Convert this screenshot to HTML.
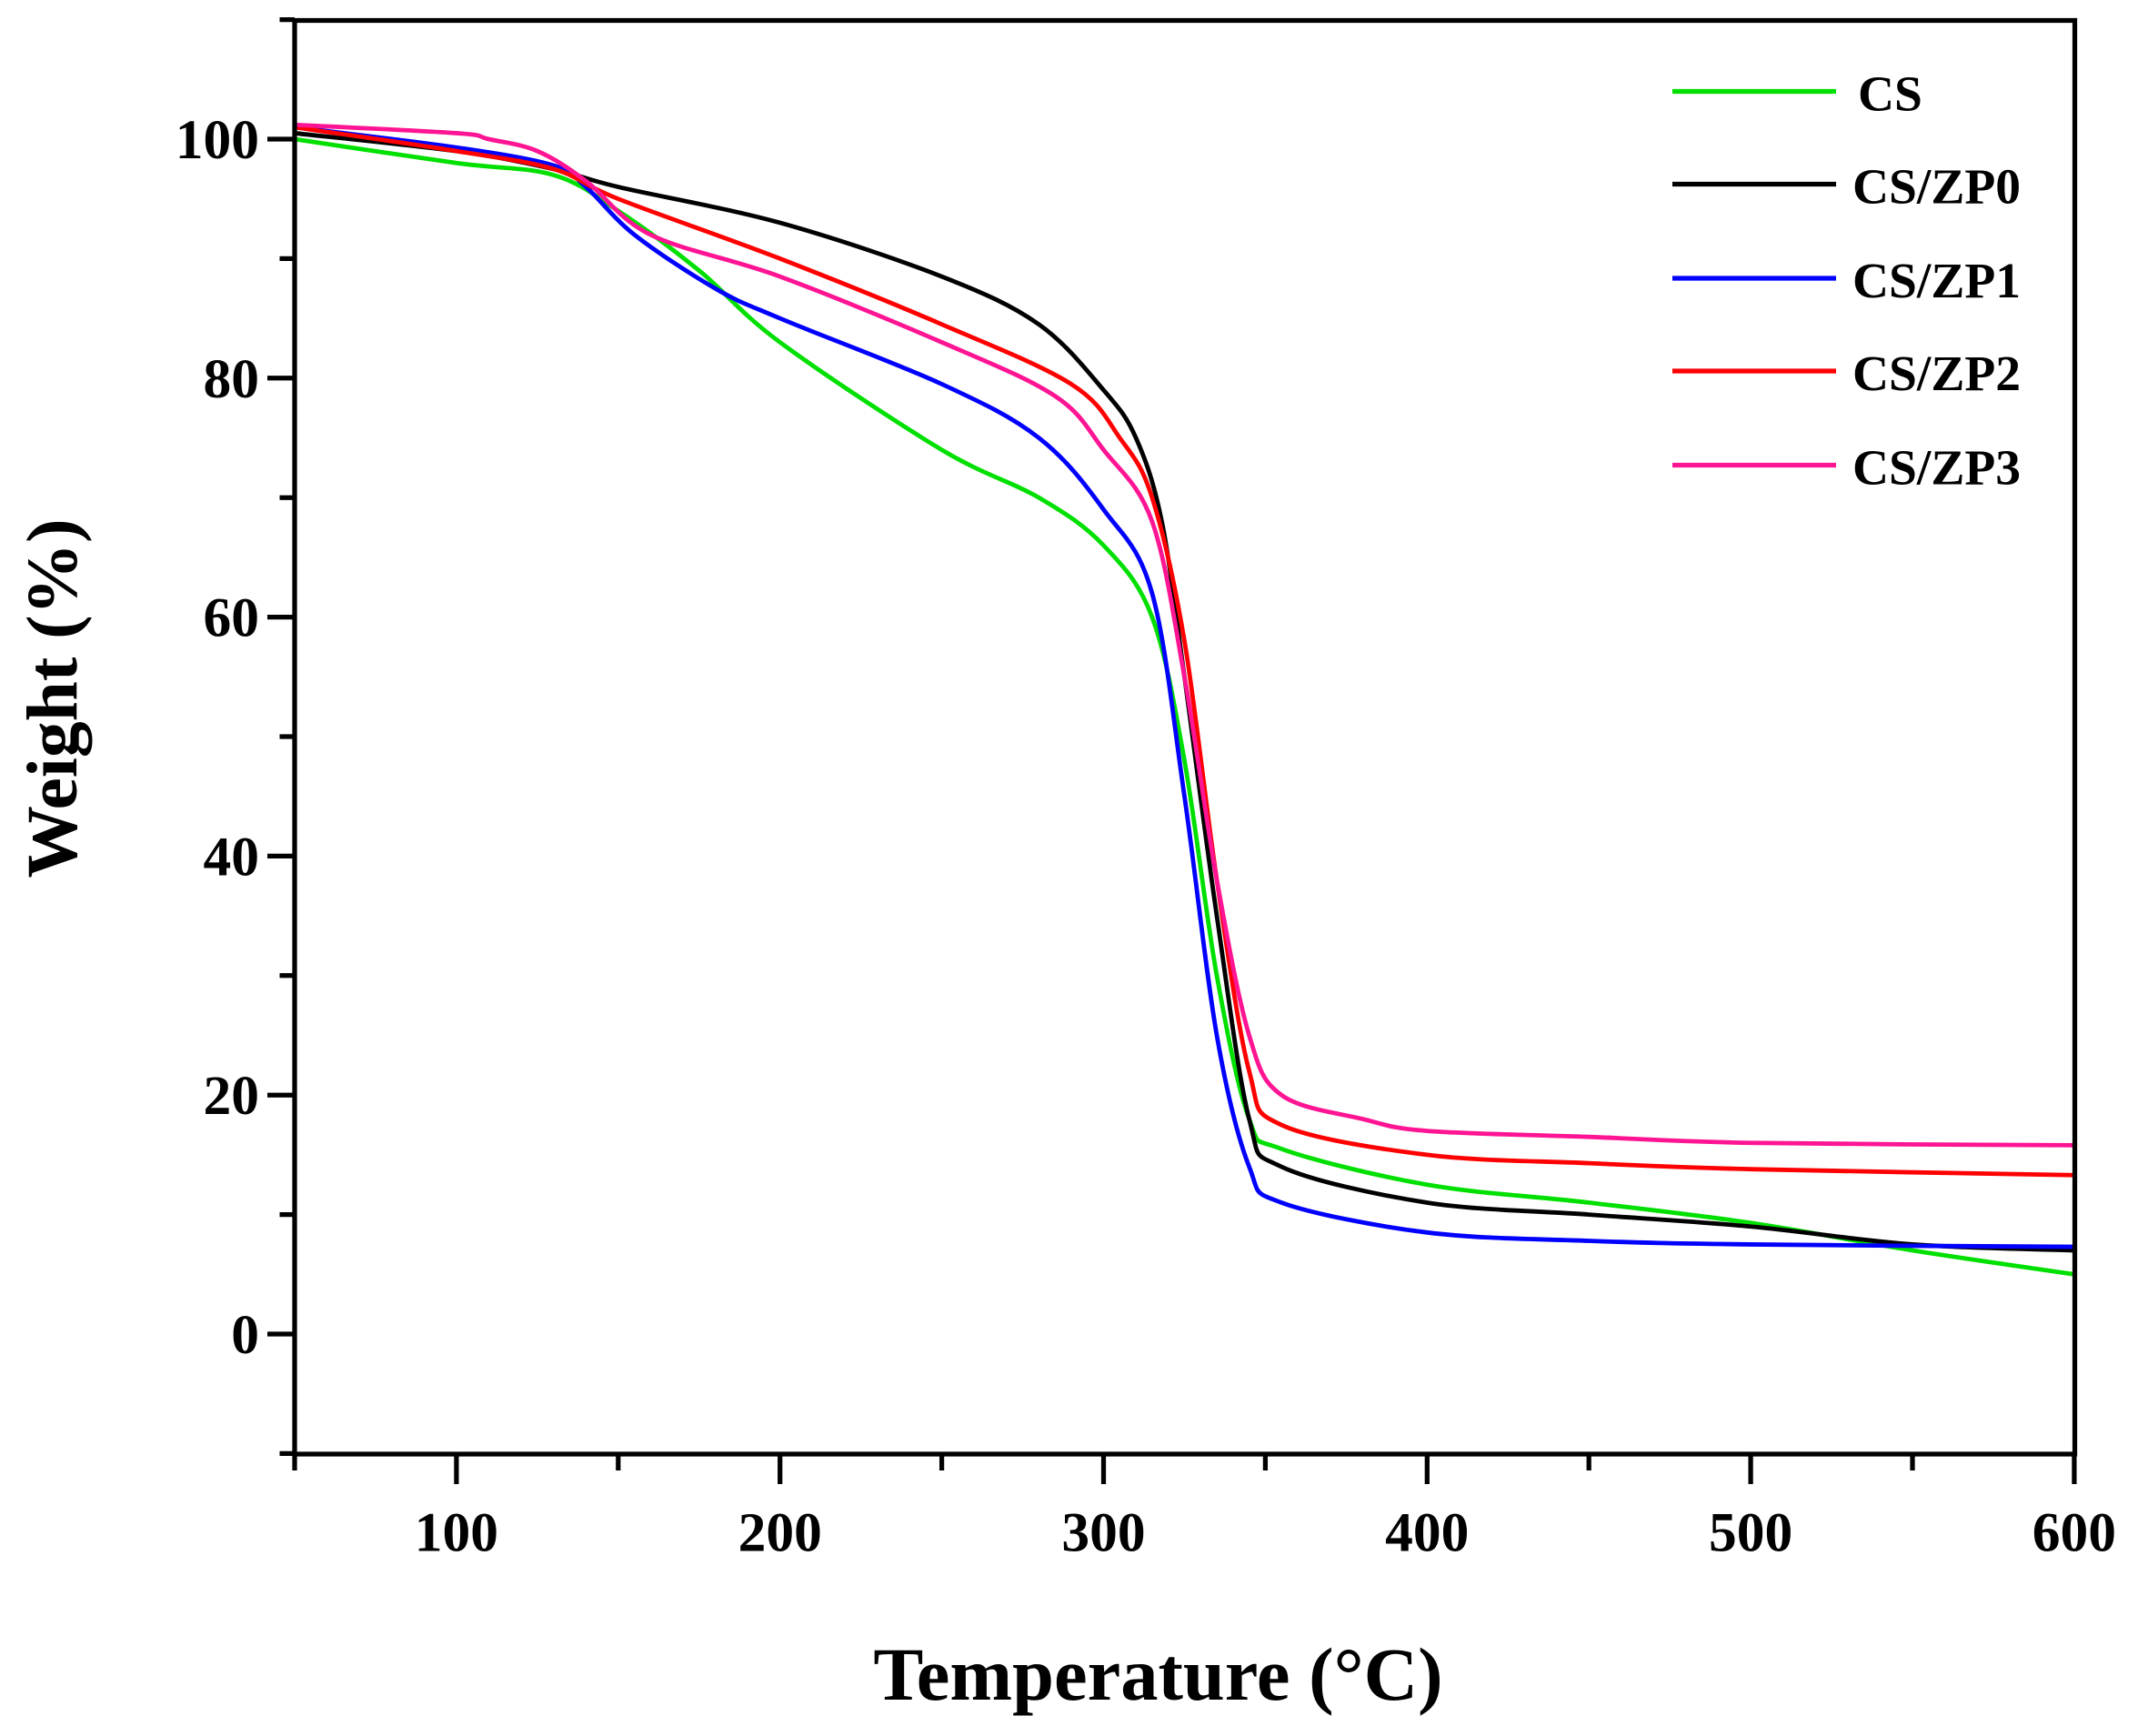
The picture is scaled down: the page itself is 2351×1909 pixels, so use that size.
<!DOCTYPE html>
<html><head><meta charset="utf-8"><style>
html,body{margin:0;padding:0;background:#fff;}
svg{display:block;}
text{font-family:"Liberation Serif",serif;font-weight:bold;fill:#000;}
</style></head><body>
<svg id="s" width="2351" height="1909" viewBox="0 0 1567.33 1272.67" preserveAspectRatio="none" xmlns="http://www.w3.org/2000/svg">
<rect x="0" y="0" width="1568" height="1273" fill="#fff"/>
<g id="curves" fill="none" stroke-width="3.2" stroke-linejoin="round"></g>
<rect x="216" y="15" width="1305" height="1051" fill="none" stroke="#000" stroke-width="3.5"/>
<g id="ticks" stroke="#000" stroke-width="3.5"></g>
<g id="labels" font-size="41"></g>
<text x="849" y="1246" font-size="55" text-anchor="middle">Temperature (°C)</text>
<text transform="translate(56,512) rotate(-90)" font-size="53" text-anchor="middle">Weight (%)</text>
<g id="legend" font-size="37"></g>
</svg>
<script>
const X=t=>216+(t-50)*2.372, Y=w=>978-w*8.76;
const series=[
["#00e000","CS",[[50,100],[100,98],[130,97],[150,94],[175,89],[200,83],[250,74],[280,70],[300,66],[315,60],[325,48],[335,30],[345,18],[355,15.5],[400,12.5],[450,11],[500,9.3],[550,7],[600,5]]],
["#000000","CS/ZP0",[[50,100.5],[100,99],[130,97.5],[150,96],[200,93],[250,88.5],[280,84.5],[300,79],[310,75],[318,68],[325,55],[335,35],[345,18],[355,14],[400,11],[450,10],[500,9],[550,7.5],[600,7]]],
["#0000ff","CS/ZP1",[[50,101],[100,99.3],[130,97.8],[140,96],[155,92],[180,87.5],[200,85],[250,79.5],[280,75],[300,69],[315,62],[325,45],[335,25],[345,14],[355,11],[400,8.5],[450,7.8],[500,7.5],[600,7.3]]],
["#ff0000","CS/ZP2",[[50,101],[100,99],[130,97.5],[150,95],[200,90],[250,84.5],[290,79.5],[305,75],[315,70],[325,58],[335,38],[345,22],[355,17.5],[400,15],[450,14.3],[500,13.8],[600,13.3]]],
["#ff1493","CS/ZP3",[[50,101.2],[100,100.5],[110,100],[125,99],[140,96.5],[160,92],[200,88.5],[250,83],[285,78.5],[300,74],[315,68],[325,55],[335,38],[345,25],[355,20],[380,18],[400,17],[450,16.5],[500,16],[600,15.8]]]
];
const ns="http://www.w3.org/2000/svg";
function el(tag,attrs,parent,txt){const e=document.createElementNS(ns,tag);for(const k in attrs)e.setAttribute(k,attrs[k]);if(txt!==undefined)e.textContent=txt;parent.appendChild(e);return e;}
const cg=document.getElementById('curves');
series.forEach(([c,n,pts])=>{
  const P=pts.map(p=>[X(p[0]),Y(p[1])]);
  let d=`M${P[0][0]},${P[0][1]}`;
  for(let i=0;i<P.length-1;i++){
    const p0=P[i-1]||P[i],p1=P[i],p2=P[i+1],p3=P[i+2]||P[i+1];
    const c1=[p1[0]+(p2[0]-p0[0])/6,p1[1]+(p2[1]-p0[1])/6];
    const c2=[p2[0]-(p3[0]-p1[0])/6,p2[1]-(p3[1]-p1[1])/6];
    d+=` C${c1[0]},${c1[1]} ${c2[0]},${c2[1]} ${p2[0]},${p2[1]}`;
  }
  el('path',{d,stroke:c},cg);
});
const tg=document.getElementById('ticks'),lg=document.getElementById('labels');
for(let t=50;t<=600;t+=50){const x=X(t);const maj=t%100==0;el('line',{x1:x,y1:1066,x2:x,y2:1066+(maj?22:12)},tg);if(maj)el('text',{x:x,y:1137,'text-anchor':'middle'},lg,t);}
for(let w=-10;w<=110;w+=10){const y=Y(w);const maj=w%20==0;el('line',{x1:216,y1:y,x2:216-(maj?20:11),y2:y},tg);if(maj)el('text',{x:190,y:y+14,'text-anchor':'end'},lg,w);}
const leg=document.getElementById('legend');
[67,135,204,272,341].forEach((y,i)=>{el('line',{x1:1226,y1:y,x2:1346,y2:y,stroke:series[i][0],'stroke-width':3.5},leg);el('text',{x:i==0?1362:1358,y:y+14},leg,series[i][1]);});
</script>
</body></html>
